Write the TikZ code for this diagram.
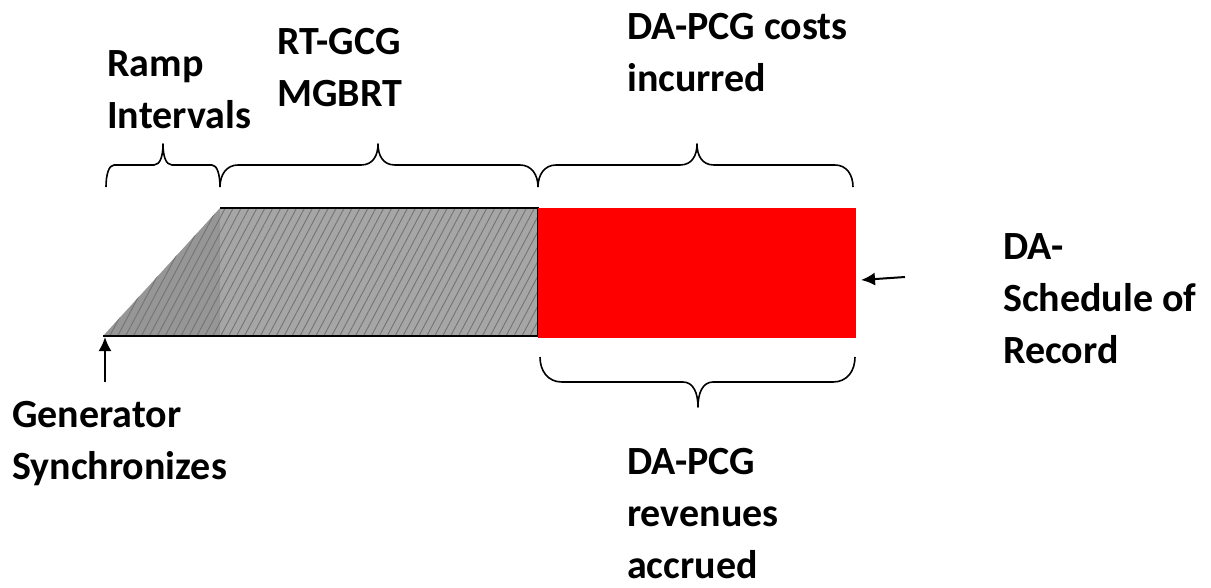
\documentclass[tikz,border=0pt]{standalone}
\usepackage{fontspec}
\setmainfont{Carlito}
\usetikzlibrary{patterns.meta,arrows.meta}

% curly brace: #1 left x, #2 right x, #3 tip x, #4 end y, #5 bar y, #6 tip y, #7 end curl width, #8 tip curl width
\newcommand\curlybrace[8]{%
  \draw[bracestyle] (#1,#4) .. controls (#1,{#5+0.45*(#4-#5)}) and ({#1+0.35*#7},#5) .. ({#1+#7},#5)
    -- ({#3-#8},#5) .. controls ({#3-0.3*#8},#5) and (#3,{#5+0.45*(#6-#5)}) .. (#3,#6)
    .. controls (#3,{#5+0.45*(#6-#5)}) and ({#3+0.3*#8},#5) .. ({#3+#8},#5)
    -- ({#2-#7},#5) .. controls ({#2-0.35*#7},#5) and (#2,{#5+0.45*(#4-#5)}) .. (#2,#4);}

\tikzset{
  label/.style={anchor=base west, inner sep=0pt, align=left,
    font=\fontsize{40}{52}\selectfont\bfseries},
  bracestyle/.style={line width=1.6pt, line join=round},
  hatch/.style={pattern={Lines[angle=62, distance=7pt, line width=0.9pt]},
    pattern color=black!55},
  pointer/.style={line width=2pt, -{Latex[length=14pt,width=13pt]}}
}

\begin{document}
\begin{tikzpicture}[x=1pt, y=-1pt]
\useasboundingbox (0,0) rectangle (1211,587);

% ramp section (triangle) and real-time section (rectangle)
\fill[gray!82] (103,336) -- (220,208) -- (220,336) -- cycle;
\fill[hatch] (103,336) -- (220,208) -- (220,336) -- cycle;
\fill[gray!70] (220,208) rectangle (538,336);
\fill[hatch] (220,208) rectangle (538,336);
\draw[line width=2pt] (220,208) -- (538,208) -- (538,336) -- (103,336);

% day-ahead schedule block
\fill[red] (538,208) rectangle (856,338);
\coordinate (sor) at (861,280);
\coordinate (sync) at (105,337);

% braces above the bar
\curlybrace{106}{220}{163}{187}{165}{144}{8}{9}
\curlybrace{220}{538}{378}{187}{165}{144}{18}{17}
\curlybrace{538}{853}{697}{187}{165}{144}{18}{17}
% brace below the red block
\curlybrace{540}{855}{698}{357}{382}{407}{22}{15}

% labels (anchored at the baseline of the last line)
\node[label] (ramp) at (107,128) {Ramp\\Intervals};
\node[label] (rt) at (277,106) {RT-GCG\\MGBRT};
\node[label] (cost) at (627,91) {DA-PCG costs\\incurred};
\node[label] (da) at (1003,363) {DA-\\Schedule of\\Record};
\node[label] (gen) at (12,479) {Generator\\Synchronizes};
\node[label] (rev) at (627,578) {DA-PCG\\revenues\\accrued};

% pointers
\coordinate (genarrow) at (105,382);
\coordinate (daarrow) at (905,277);
\draw[pointer] (genarrow) -- (sync);
\draw[pointer] (daarrow) -- (sor);
\end{tikzpicture}
\end{document}
